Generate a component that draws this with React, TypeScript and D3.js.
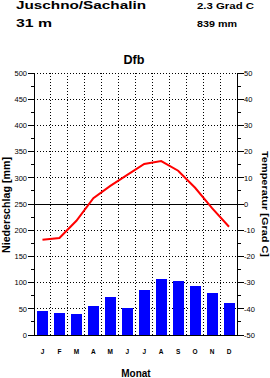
import React from "react";
import * as d3 from "d3";

const months = ["J", "F", "M", "A", "M", "J", "J", "A", "S", "O", "N", "D"];
const precip = [45, 42, 41, 56, 72, 52, 85, 106, 104, 94, 81, 61];
const temp = [-13.6, -13.0, -6.4, 2.2, 6.9, 11.1, 15.3, 16.4, 12.7, 6.2, -1.6, -8.7];
const precipTicks = [0, 50, 100, 150, 200, 250, 300, 350, 400, 450, 500];
const tempTicks = [50, 40, 30, 20, 10, 0, -10, -20, -30, -40, -50];

const L = 34, R = 237.5, T = 73, B = 335;

export default function App() {
  const idx = months.map((_, i) => i);
  const x = d3.scaleBand<number>().domain(idx).range([L, R]).paddingInner(0.35).paddingOuter(0.175);
  const step = x.step();
  const yP = d3.scaleLinear().domain([0, 500]).range([B, T]);
  const yT = d3.scaleLinear().domain([-50, 50]).range([B, T]);
  const line = d3.line<number>().x((d, i) => (x(i) as number) + x.bandwidth() / 2).y(d => yT(d));
  const minorP = d3.range(25, 500, 50);
  const minorT = d3.range(-45, 50, 10);
  const font = "'Liberation Sans', Arial, sans-serif";
  return (
    <svg width={270} height={378} style={{ position: "absolute", left: 0, top: 0, background: "#fff" }} fontFamily={font}>
      <rect x={0} y={0} width={270} height={378} fill="#fff" />
      <g shapeRendering="crispEdges">
        {d3.range(1, 12).map(i => (
          <line key={"v" + i} x1={L + i * step} x2={L + i * step} y1={T} y2={B} stroke="#000" strokeWidth={1} strokeDasharray="1,2" />
        ))}
        {precipTicks.filter(v => v !== 0 && v !== 250).map(v => (
          <line key={"h" + v} x1={L} x2={R} y1={yP(v)} y2={yP(v)} stroke="#000" strokeWidth={1} strokeDasharray="1,2" />
        ))}
        <line x1={L} x2={R} y1={yP(250)} y2={yP(250)} stroke="#000" strokeWidth={1} />
        {precip.map((v, i) => (
          <rect key={"b" + i} x={x(i)} y={yP(v)} width={x.bandwidth()} height={B - yP(v)} fill="#0000ff" />
        ))}
      </g>
      <path d={line(temp) || ""} fill="none" stroke="#ff0000" strokeWidth={2} />
      <g shapeRendering="crispEdges">
        <line x1={L} x2={L} y1={T} y2={B} stroke="#000" />
        <line x1={R} x2={R} y1={T} y2={B} stroke="#000" />
        <line x1={L} x2={R} y1={B} y2={B} stroke="#000" />
        {precipTicks.map(v => (
          <line key={"lt" + v} x1={L - 6} x2={L} y1={yP(v)} y2={yP(v)} stroke="#000" />
        ))}
        {minorP.map(v => (
          <line key={"lm" + v} x1={L - 3} x2={L} y1={yP(v)} y2={yP(v)} stroke="#000" />
        ))}
        {tempTicks.map(v => (
          <line key={"rt" + v} x1={R} x2={R + 6} y1={yT(v)} y2={yT(v)} stroke="#000" />
        ))}
        {minorT.map(v => (
          <line key={"rm" + v} x1={R} x2={R + 3} y1={yT(v)} y2={yT(v)} stroke="#000" />
        ))}
      </g>
      {precipTicks.map(v => (
        <text key={"ltl" + v} x={27} y={yP(v) + 2.7} fontSize={7.5} textAnchor="end">{v}</text>
      ))}
      {tempTicks.map(v => (
        <text key={"rtl" + v} x={244} y={yT(v) + 2.7} fontSize={7.5} textAnchor="start">{v}</text>
      ))}
      {months.map((m, i) => (
        <text key={"m" + i} x={(x(i) as number) + x.bandwidth() / 2} y={354} fontSize={6.5} fontWeight="bold" textAnchor="middle">{m}</text>
      ))}
      <text x={136} y={377} fontSize={10} fontWeight="bold" textAnchor="middle">Monat</text>
      <text transform="translate(9.5,205) rotate(-90)" fontSize={10} fontWeight="bold" textAnchor="middle" textLength={96} lengthAdjust="spacingAndGlyphs">Niederschlag [mm]</text>
      <text transform="translate(262,204) rotate(90)" fontSize={9.5} fontWeight="bold" textAnchor="middle" textLength={106} lengthAdjust="spacingAndGlyphs">Temperatur [Grad C]</text>
      <text x={16} y={9} fontSize={11.5} fontWeight="bold" textLength={130} lengthAdjust="spacingAndGlyphs">Juschno/Sachalin</text>
      <text x={16} y={27} fontSize={11.5} fontWeight="bold" textLength={36} lengthAdjust="spacingAndGlyphs">31 m</text>
      <text x={197} y={9} fontSize={8.5} fontWeight="bold" textLength={57} lengthAdjust="spacingAndGlyphs">2.3 Grad C</text>
      <text x={197} y={27} fontSize={8.5} fontWeight="bold" textLength={40} lengthAdjust="spacingAndGlyphs">839 mm</text>
      <text x={134} y={64} fontSize={12} fontWeight="bold" textAnchor="middle" textLength={21} lengthAdjust="spacingAndGlyphs">Dfb</text>
    </svg>
  );
}
